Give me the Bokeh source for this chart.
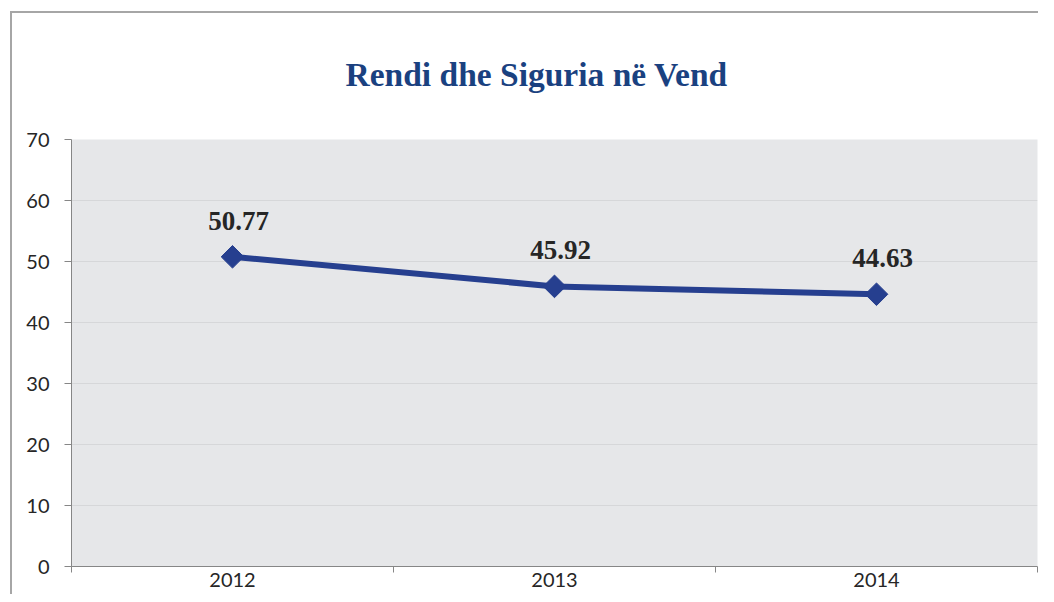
from bokeh.plotting import figure
from bokeh.models import Range1d, FixedTicker, ColumnDataSource
from bokeh.core.properties import value
from bokeh.embed import file_html
from bokeh.resources import INLINE

# ---- data ----
years = ["2012", "2013", "2014"]
scores = [50.77, 45.92, 44.63]
y_ticks = [0, 10, 20, 30, 40, 50, 60, 70]
title_text = "Rendi dhe Siguria në Vend"

xs = [i + 0.5 for i in range(len(years))]
labels = [f"{v:.2f}" for v in scores]
src = ColumnDataSource(dict(x=xs, y=scores, label=labels))

W, H = 1038, 594
p = figure(width=W, height=H, output_backend="svg", toolbar_location=None,
           x_range=Range1d(0, len(years)), y_range=Range1d(0, 70),
           min_border_left=71, min_border_right=1, min_border_top=139,
           min_border_bottom=28)
gray = "#a6a6a6"
p.styles = {
    "background": (f"linear-gradient({gray}, {gray}) 10px 11px / 2px calc(100% - 11px) no-repeat, "
                   f"linear-gradient({gray}, {gray}) 10px 11px / calc(100% - 10px) 2px no-repeat, white")
}
p.border_fill_color = None

p.title.text = title_text
p.title.align = "left"
p.title.text_font = "Liberation Serif"
p.title.text_font_style = "bold"
p.title.text_font_size = "33.5px"
p.title.text_color = "#1a4180"
p.title.standoff = 94
p.title.offset = 274

p.background_fill_color = "#e6e7e9"
p.outline_line_color = None

p.xgrid.grid_line_color = None
p.ygrid.grid_line_color = "#d6d7d9"
p.ygrid.grid_line_width = 1

# x axis: labels at category centres, tick marks at category boundaries
xa = p.xaxis[0]
xa.ticker = FixedTicker(ticks=xs, minor_ticks=list(range(len(years) + 1)))
xa.major_label_overrides = {x: y for x, y in zip(xs, years)}
xa.major_tick_out = 0
xa.major_tick_in = 0
xa.minor_tick_out = 6
xa.minor_tick_in = 0
xa.minor_tick_line_color = "#868686"
xa.axis_line_color = "#868686"
xa.major_label_text_font = "Lato"
xa.major_label_text_font_size = "20px"
xa.major_label_text_color = "#262626"
xa.major_label_standoff = 0

# y axis
ya = p.yaxis[0]
ya.ticker = FixedTicker(ticks=y_ticks)
ya.major_tick_out = 7
ya.major_tick_in = 0
ya.minor_tick_out = 0
ya.minor_tick_in = 0
ya.major_tick_line_color = "#868686"
ya.axis_line_color = "#868686"
ya.major_label_text_font = "Lato"
ya.major_label_text_font_size = "20px"
ya.major_label_text_color = "#262626"
ya.major_label_standoff = 15

p.line("x", "y", source=src, line_color="#263f8f", line_width=6)
p.scatter("x", "y", source=src, marker="square", angle=0.785398, size=16,
          fill_color="#263f8f", line_color="#263f8f")
p.text("x", "y", text="label", source=src, text_align="center",
       text_baseline="alphabetic", x_offset=6, y_offset=-36,
       text_font=value("Liberation Serif"), text_font_style="bold",
       text_font_size="27px", text_color="#262626")

open("out.html", "w").write(file_html(p, INLINE))
